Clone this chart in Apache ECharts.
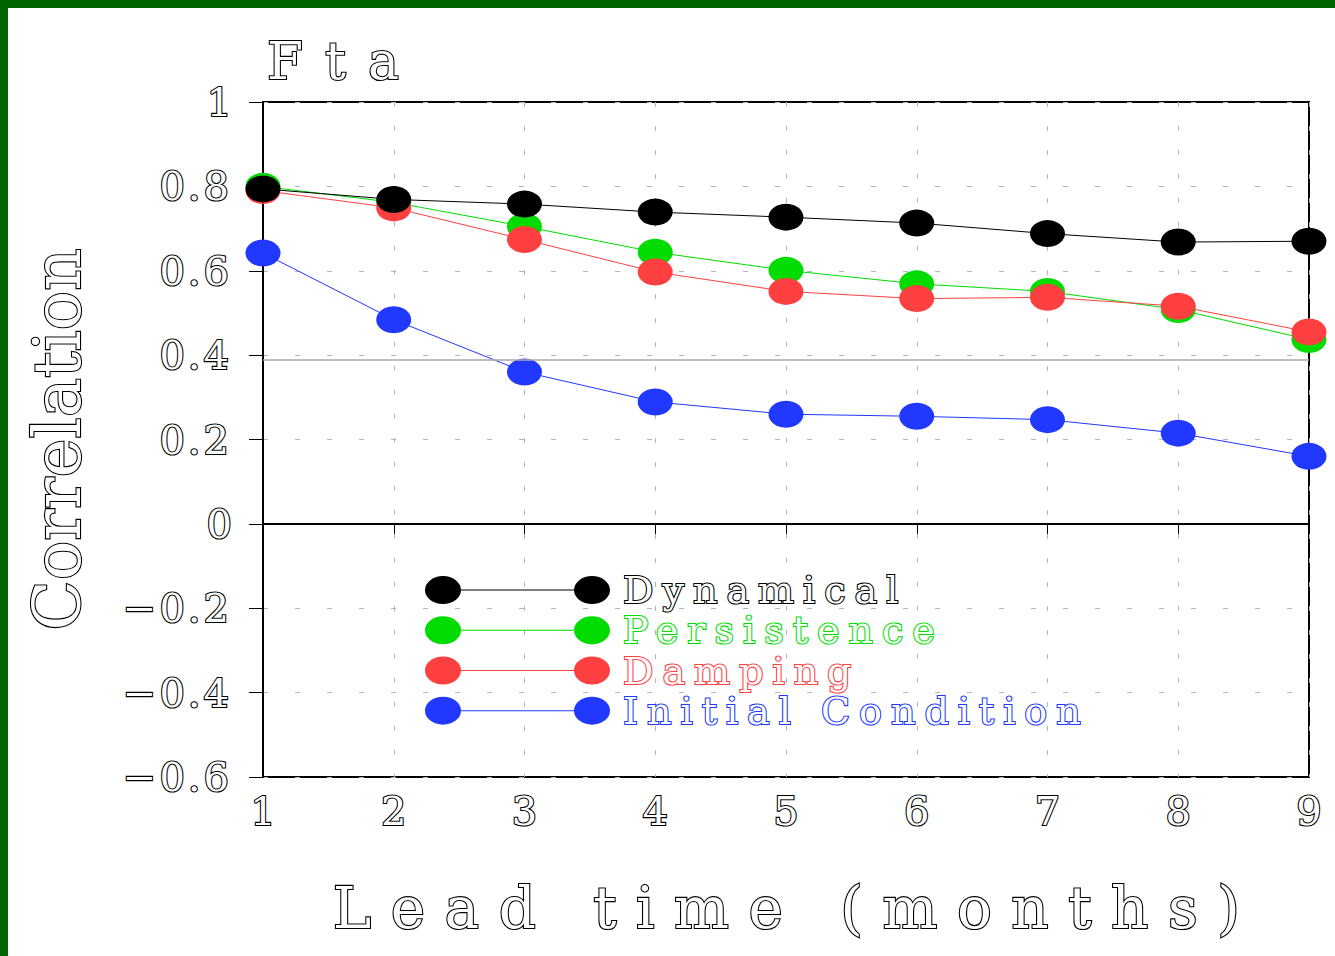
<!DOCTYPE html>
<html>
<head>
<meta charset="utf-8">
<script src="https://cdn.jsdelivr.net/npm/echarts@6/dist/echarts.min.js"></script>
<style>
html,body{margin:0;padding:0;background:#fff;}
#frame{position:absolute;left:0;top:0;width:1335px;height:956px;box-sizing:border-box;border-top:8px solid #006400;border-left:8px solid #006400;background:#fff;}
#chart{position:absolute;left:0;top:0;width:1335px;height:956px;}
</style>
</head>
<body>
<div id="frame"></div>
<div id="chart"></div>
<script>
// ---- data ----
const leadTimes = [1, 2, 3, 4, 5, 6, 7, 8, 9];
const dynamical = [0.794, 0.769, 0.758, 0.739, 0.727, 0.713, 0.688, 0.668, 0.670];
const persistence = [0.800, 0.762, 0.705, 0.644, 0.601, 0.569, 0.551, 0.508, 0.437];
const damping = [0.790, 0.749, 0.674, 0.597, 0.551, 0.534, 0.537, 0.516, 0.455];
const initialCondition = [0.642, 0.484, 0.360, 0.289, 0.260, 0.255, 0.247, 0.215, 0.160];
const seriesNames = ['Dynamical', 'Persistence', 'Damping', 'Initial Condition'];
const zeroLine = 0;
const grayRefLine = 0.391;
const yTicksMin = -0.6, yTicksMax = 1, yTickStep = 0.2;

const FONT = 'DejaVu Serif';
const colors = {
  'Dynamical': '#000000',
  'Persistence': '#00dc00',
  'Damping': '#ff4040',
  'Initial Condition': '#2038ff'
};

function pairs(vals) { return leadTimes.map((x, i) => [x, vals[i]]); }

const legendIcon = 'path://M0 14A18 14 0 1 1 36 14A18 14 0 1 1 0 14Z' +
  'M36 13.5L149 13.5L149 14.5L36 14.5Z' +
  'M149 14A18 14 0 1 1 185 14A18 14 0 1 1 149 14Z';

const BW = 2.2;
function outlined(color, size) {
  return { fontFamily: FONT, fontSize: size, fontWeight: 'normal', color: '#fff',
           textBorderColor: color, textBorderWidth: BW };
}

function mkSeries(name, vals, extra) {
  return Object.assign({
    name: name,
    type: 'line',
    data: pairs(vals),
    symbol: 'circle',
    symbolSize: [35, 27],
    showSymbol: true,
    color: colors[name],
    lineStyle: { width: 1, color: colors[name] },
    itemStyle: { color: colors[name], borderWidth: 0 },
    emphasis: { disabled: true },
    animation: false
  }, extra || {});
}

const chart = echarts.init(document.getElementById('chart'), null, { renderer: 'svg' });
chart.setOption({
  backgroundColor: 'transparent',
  animation: false,
  title: {
    text: 'Fta',
    left: 262,
    top: 30,
    textStyle: outlined('#000', 52)
  },
  grid: {
    left: 263, right: 26, top: 102, bottom: 179,
    show: true, borderColor: '#000', borderWidth: 2, backgroundColor: 'transparent'
  },
  legend: {
    orient: 'vertical',
    left: 420,
    top: 565,
    itemWidth: 185,
    itemHeight: 28,
    itemGap: 0,
    icon: legendIcon,
    selectedMode: false,
    itemStyle: { borderWidth: 0 },
    textStyle: Object.assign(outlined('#000', 38), { lineHeight: 36, padding: [0, 0, 0, 8] }),
    data: seriesNames.map(n => ({ name: n, textStyle: { color: '#fff', textBorderColor: colors[n], textBorderWidth: BW } }))
  },
  xAxis: {
    type: 'value',
    min: 1, max: 9, interval: 1,
    name: 'Lead time (months)',
    nameLocation: 'middle',
    nameGap: 102,
    nameTextStyle: Object.assign(outlined('#000', 58), { padding: [0, 0, 0, 20] }),
    axisLine: { show: true, lineStyle: { color: '#000', width: 2 } },
    axisTick: { show: true, length: 10, lineStyle: { color: '#000', width: 1 } },
    axisLabel: Object.assign(outlined('#000', 40), { margin: 14 }),
    splitLine: { show: true, lineStyle: { color: '#b4b4b4', width: 1, type: [5, 19] } }
  },
  yAxis: {
    type: 'value',
    min: yTicksMin, max: yTicksMax, interval: yTickStep,
    name: 'Correlation',
    nameLocation: 'middle',
    nameRotate: 90,
    nameGap: 173,
    nameTextStyle: outlined('#000', 66),
    axisLine: { show: true, lineStyle: { color: '#000', width: 2 } },
    axisTick: { show: true, length: 14, lineStyle: { color: '#000', width: 1 } },
    axisLabel: Object.assign(outlined('#000', 40), {
      margin: 31,
      formatter: v => {
        const r = Math.round(v * 10) / 10;
        return String(r).replace('-', '\u2212');
      }
    }),
    splitLine: { show: true, lineStyle: { color: '#b4b4b4', width: 1, type: [5, 27] } }
  },
  series: [
    mkSeries('Initial Condition', initialCondition, {
      markLine: {
        silent: true,
        symbol: 'none',
        label: { show: false },
        animation: false,
        data: [
          { yAxis: zeroLine, lineStyle: { color: '#000', width: 1.5, type: [28, 4] } },
          { yAxis: grayRefLine, lineStyle: { color: '#aaaaaa', width: 1.5, type: 'solid' } }
        ]
      }
    }),
    mkSeries('Persistence', persistence),
    mkSeries('Damping', damping),
    mkSeries('Dynamical', dynamical)
  ]
});

// wider letter spacing, like the plotting package's stroke font
function applySpacing() {
  document.querySelectorAll('#chart svg text').forEach(t => {
    const s = t.textContent;
    let ls = null;
    if (s === 'Fta') ls = 22;
    else if (s === 'Lead time (months)') ls = 19.5;
    else if (seriesNames.indexOf(s) >= 0) ls = 9;
    else if (/^[\u2212\d.]+$/.test(s) && s.length > 1) ls = 3;
    if (ls !== null) t.style.letterSpacing = ls + 'px';
  });
}
applySpacing();
chart.on('finished', applySpacing);
</script>
</body>
</html>
